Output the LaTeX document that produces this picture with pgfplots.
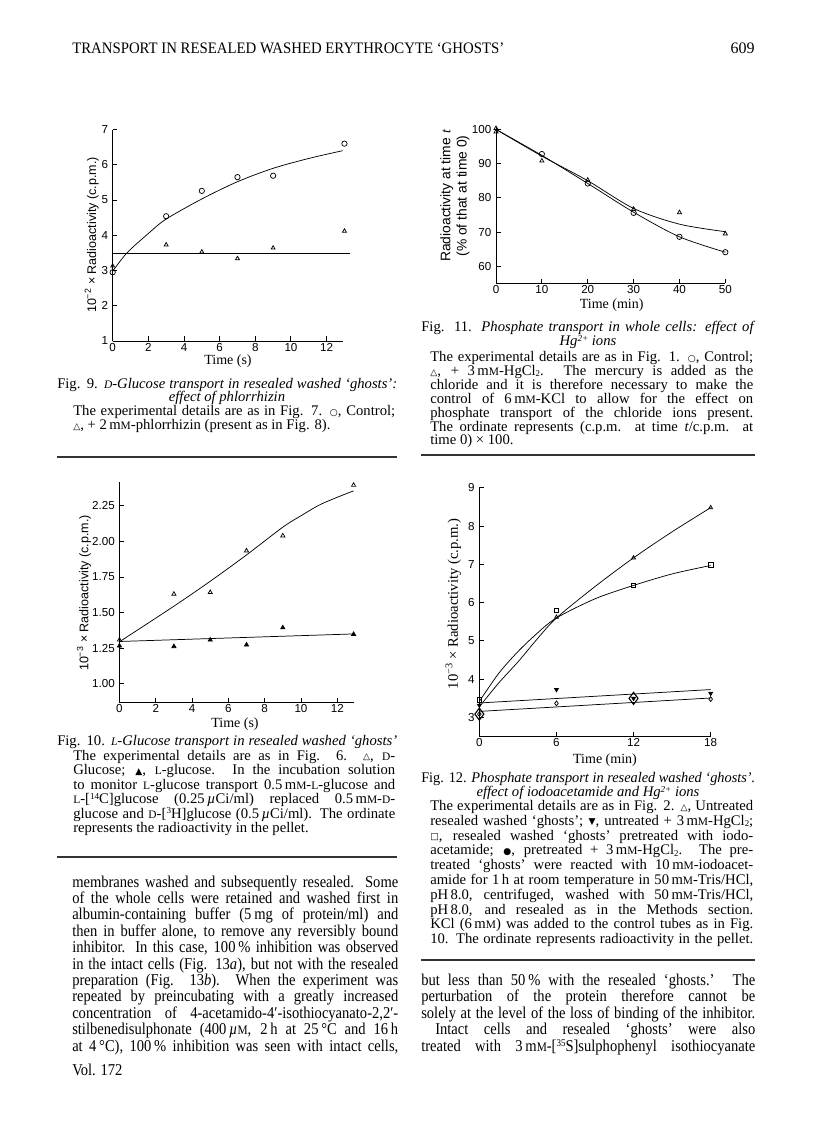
\documentclass[border=0pt]{standalone}
\usepackage{fontspec}
\setmainfont{Liberation Serif}
\setsansfont{Liberation Sans}
\newfontfamily\symf{DejaVu Sans}
\newfontfamily\bodyf{Liberation Serif}[FakeStretch=0.88]
\usepackage{graphicx}
\usepackage{pgfplots}
\pgfplotsset{compat=1.18}

\newcommand\smc[1]{\scalebox{0.78}{#1}}
\newcommand\sy[1]{\raisebox{0.05ex}{\symf\scalebox{0.62}{#1}}}
\newcommand\sps[1]{\raisebox{0.3em}{\scalebox{0.62}{#1}}}
\newcommand\sbs[1]{\raisebox{-0.1em}{\scalebox{0.6}{#1}}}
\newsavebox\fitbox
% justified line: stretch spaces if short, compress if too long
\newcommand\fitline[2]{\sbox\fitbox{#2}\ifdim\wd\fitbox>#1\relax\resizebox{#1}{\ht\fitbox}{\usebox\fitbox}\else\makebox[#1][s]{#2}\fi}
% compress-only line
\newcommand\fitmax[2]{\sbox\fitbox{#2}\ifdim\wd\fitbox>#1\relax\resizebox{#1}{\ht\fitbox}{\usebox\fitbox}\else\usebox\fitbox\fi}
\newcommand\J[4]{\node[anchor=base west,inner sep=0pt] at (#1,#2) {\fitline{#3}{#4}};}
\newcommand\Lf[3]{\node[anchor=base west,inner sep=0pt] at (#1,#2) {#3};}
\newcommand\Cn[3]{\node[anchor=base,inner sep=0pt] at (#1,#2) {#3};}

% widths (1 px = 0.75 pt)
\newlength\wLt \setlength\wLt{255pt}     % left title 340px
\newlength\wLc \setlength\wLc{241.5pt}   % left caption body 322px
\newlength\wLb \setlength\wLb{244.5pt}   % left body 326px
\newlength\wRt \setlength\wRt{250.5pt}   % right title 334px
\newlength\wRc \setlength\wRc{242.25pt}  % right caption body 323px
\newlength\wRb \setlength\wRb{250.5pt}   % right body 334px
\newlength\wRi \setlength\wRi{240pt}     % indented line 320px
\newlength\wH  \setlength\wH{324pt}      % header 432px

\pgfplotsset{
  pg/.style={
    scale only axis, anchor=south west, clip=false,
    axis lines=left, axis line style={-, line width=0.7pt},
    tick align=inside, major tick length=3.5pt,
    tick style={line width=0.7pt, black},
    /pgf/number format/assume math mode=true,
    tick label style={font=\sffamily\fontsize{8.7}{10}\selectfont},
    xticklabel style={yshift=2pt},
    every axis plot/.append style={line width=0.55pt, black},
  }
}

\begin{document}
\begin{tikzpicture}
\path[use as bounding box, fill=white] (0pt,0pt) rectangle (612pt,-852pt);

% ---------------- Fig. 9 ----------------
\begin{axis}[pg, at={(84.5pt,-255.75pt)}, width=172.5pt, height=158.6pt,
  xmin=0, xmax=12.9, ymin=1, ymax=7,
  xtick={0,2,4,6,8,10,12}, ytick={1,2,3,4,5,6,7}]
\addplot[smooth, no marks] coordinates {(0,2.98) (0.8,3.5) (2,4.05) (3,4.46) (5,5.03) (7,5.52) (9,5.9) (11,6.18) (12.9,6.4)};
\addplot[no marks] coordinates {(0,3.5) (13.3,3.5)};
\addplot[only marks, mark=o, mark size=2pt] coordinates {(0,2.95) (3,4.54) (5,5.26) (7,5.65) (9,5.69) (13,6.6)};
\addplot[only marks, mark=triangle, mark size=1.7pt] coordinates {(0,3.13) (3,3.73) (5,3.53) (7,3.34) (9,3.64) (13,4.12)};
\end{axis}

% ---------------- Fig. 10 ----------------
\begin{axis}[pg, at={(89.6pt,-526.7pt)}, width=175.6pt, height=165.5pt,
  xmin=0, xmax=12.9, ymin=0.87, ymax=2.42,
  xtick={0,2,4,6,8,10,12}, ytick={1,1.25,1.5,1.75,2,2.25},
  yticklabels={1.00,1.25,1.50,1.75,2.00,2.25}]
\addplot[smooth, no marks] coordinates {(0,1.295) (3,1.545) (5,1.72) (7,1.905) (9,2.1) (10,2.18) (11,2.255) (12,2.31) (12.9,2.355)};
\addplot[no marks] coordinates {(0,1.297) (12.9,1.35)};
\addplot[only marks, mark=triangle, mark size=1.8pt] coordinates {(0,1.308) (3,1.63) (5,1.642) (7,1.934) (9,2.04) (12.9,2.395)};
\addplot[only marks, mark=triangle*, mark size=1.8pt] coordinates {(0,1.266) (3,1.262) (5,1.308) (7,1.273) (9,1.394) (12.9,1.348)};
\end{axis}

% ---------------- Fig. 11 ----------------
\begin{axis}[pg, at={(372pt,-212.5pt)}, width=172pt, height=117.5pt,
  xmin=0, xmax=50, ymin=55, ymax=100.8,
  xtick={0,10,20,30,40,50}, ytick={60,70,80,90,100}]
\addplot[smooth, no marks] coordinates {(0,100) (10,92.4) (20,84.2) (30,75.8) (40,68.6) (50,64.1)};
\addplot[smooth, no marks] coordinates {(0,100) (10,92.2) (20,85.0) (30,76.9) (40,72.3) (50,70.1)};
\addplot[only marks, mark=o, mark size=2pt] coordinates {(10,92.8) (20,84.2) (30,75.6) (40,68.6) (50,64.1)};
\addplot[only marks, mark=triangle, mark size=1.8pt] coordinates {(0,100.3) (0,99.3) (10,90.8) (20,85.2) (30,76.7) (40,75.7) (50,69.5)};
\end{axis}

% ---------------- Fig. 12 ----------------
\begin{axis}[pg, at={(359.5pt,-552.5pt)}, width=173.5pt, height=186.7pt,
  xmin=0, xmax=18, ymin=2.5, ymax=9,
  xtick={0,6,12,18}, ytick={3,4,5,6,7,8,9}]
\addplot[smooth, no marks] coordinates {(0,3.28) (1.5,3.9) (3,4.45) (4.5,5.05) (6,5.6) (9,6.42) (12,7.17) (15,7.85) (18,8.48)};
\addplot[smooth, no marks] coordinates {(0,3.42) (1.5,4.15) (3,4.72) (4.5,5.2) (6,5.6) (9,6.1) (12,6.45) (15,6.75) (18,6.97)};
\addplot[no marks] coordinates {(0,3.38) (18,3.73)};
\addplot[no marks] coordinates {(0,3.16) (18,3.51)};
\addplot[only marks, mark=triangle, mark size=1.7pt] coordinates {(6,5.62) (12,7.17) (18,8.48)};
\addplot[only marks, mark=square, mark size=1.7pt] coordinates {(0,3.46) (6,5.8) (12,6.45) (18,6.98)};
\addplot[only marks, mark=triangle*, mark size=1.7pt, mark options={rotate=180}] coordinates {(0,3.32) (6,3.73) (12,3.5) (18,3.63)};
\addplot[only marks, mark=diamond, mark size=1.8pt] coordinates {(0,3.09) (6,3.37) (18,3.48)};
\addplot[only marks, mark=diamond, mark size=4.5pt, mark options={line width=0.8pt}] coordinates {(0,3.09) (12,3.5)};
\end{axis}

\begin{scope}[x=0.75pt, y=-0.75pt]
% header
\begin{scope}[font=\fontsize{12}{14}\selectfont]
\node[anchor=base west, inner sep=0pt] at (72,53) {\fitmax{\wH}{TRANSPORT IN RESEALED WASHED ERYTHROCYTE ‘GHOSTS’}};
\node[anchor=base east, inner sep=0pt] at (755,53) {609};
\end{scope}

% axis labels
\node[rotate=90, inner sep=0pt, font=\sffamily\fontsize{9.4}{11}\selectfont] at (91.7,235) {10\textsuperscript{−2} × Radioactivity (c.p.m.)};
\node[anchor=base, inner sep=0pt, font=\fontsize{10.5}{12}\selectfont] at (228,364) {Time (s)};
\node[rotate=90, inner sep=0pt, font=\sffamily\fontsize{9.4}{11}\selectfont] at (84,593) {10\textsuperscript{−3} × Radioactivity (c.p.m.)};
\node[anchor=base, inner sep=0pt, font=\fontsize{10.5}{12}\selectfont] at (235,727) {Time (s)};
\node[rotate=90, inner sep=0pt, align=center, font=\sffamily\fontsize{10.4}{12.2}\selectfont] at (455,196) {Radioactivity at time {\rmfamily\itshape t}\\(\% of that at time 0)};
\node[anchor=base, inner sep=0pt, font=\fontsize{10.5}{12}\selectfont] at (611.7,308) {Time (min)};
\node[rotate=90, inner sep=0pt, font=\fontsize{11}{13}\selectfont] at (453.3,604) {10\textsuperscript{−3} × Radioactivity (c.p.m.)};
\node[anchor=base, inner sep=0pt, font=\fontsize{10.5}{12}\selectfont] at (605,763) {Time (min)};

% captions
\begin{scope}[font=\fontsize{11}{13}\selectfont]
% Fig 9
\J{57}{388}{\wLt}{Fig. 9. \textit{\smc{D}-Glucose transport in resealed washed ‘ghosts’:}}
\Cn{227}{401.5}{\textit{effect of phlorrhizin}}
\J{73}{415.5}{\wLc}{The experimental details are as in Fig. 7. \sy{○}, Control;}
\Lf{73}{429.5}{\sy{△}, + 2\,m\smc{M}-phlorrhizin (present as in Fig. 8).}
% Fig 10
\J{57}{745.5}{\wLt}{Fig. 10. \textit{\smc{L}-Glucose transport in resealed washed ‘ghosts’}}
\J{73}{760}{\wLc}{The experimental details are as in Fig. 6. \sy{△}, \smc{D}-}
\J{73}{774.5}{\wLc}{Glucose; \sy{▲}, \smc{L}-glucose. In the incubation solution}
\J{73}{789}{\wLc}{to monitor \smc{L}-glucose transport 0.5\,m\smc{M}-\smc{L}-glucose and}
\J{73}{803.5}{\wLc}{\smc{L}-[\sps{14}C]glucose (0.25\,\textit{µ}Ci/ml) replaced 0.5\,m\smc{M}-\smc{D}-}
\J{73}{818}{\wLc}{glucose and \smc{D}-[\sps{3}H]glucose (0.5\,\textit{µ}Ci/ml). The ordinate}
\Lf{73}{832.5}{represents the radioactivity in the pellet.}
% Fig 11
\J{421}{331}{\wRt}{Fig. 11. \textit{Phosphate transport in whole cells: effect of}}
\Cn{588}{345.5}{\textit{Hg\sps{2+} ions}}
\J{430}{361.5}{\wRc}{The experimental details are as in Fig. 1. \sy{○}, Control;}
\J{430}{375.4}{\wRc}{\sy{△}, + 3\,m\smc{M}-HgCl\sbs{2}. The mercury is added as the}
\J{430}{389.3}{\wRc}{chloride and it is therefore necessary to make the}
\J{430}{403.2}{\wRc}{control of 6\,m\smc{M}-KCl to allow for the effect on}
\J{430}{417.1}{\wRc}{phosphate transport of the chloride ions present.}
\J{430}{431}{\wRc}{The ordinate represents (c.p.m. at time \textit{t}/c.p.m. at}
\Lf{430}{444.9}{time 0) × 100.}
% Fig 12
\J{421}{782.7}{\wRt}{Fig. 12. \textit{Phosphate transport in resealed washed ‘ghosts’.}}
\Cn{588}{796.5}{\textit{effect of iodoacetamide and Hg\sps{2+} ions}}
\J{430}{810.5}{\wRc}{The experimental details are as in Fig. 2. \sy{△}, Untreated}
\J{430}{825.3}{\wRc}{resealed washed ‘ghosts’; \sy{▼}, untreated + 3\,m\smc{M}-HgCl\sbs{2};}
\J{430}{840.1}{\wRc}{\sy{□}, resealed washed ‘ghosts’ pretreated with iodo-}
\J{430}{854.9}{\wRc}{acetamide; \sy{●}, pretreated + 3\,m\smc{M}-HgCl\sbs{2}. The pre-}
\J{430}{869.7}{\wRc}{treated ‘ghosts’ were reacted with 10\,m\smc{M}-iodoacet-}
\J{430}{884.5}{\wRc}{amide for 1\,h at room temperature in 50\,m\smc{M}-Tris/HCl,}
\J{430}{899.3}{\wRc}{pH\,8.0, centrifuged, washed with 50\,m\smc{M}-Tris/HCl,}
\J{430}{914.1}{\wRc}{pH\,8.0, and resealed as in the Methods section.}
\J{430}{928.9}{\wRc}{KCl (6\,m\smc{M}) was added to the control tubes as in Fig.}
\J{430}{943.7}{\wRc}{10. The ordinate represents radioactivity in the pellet.}
\end{scope}

% rules
\draw[line width=1.1pt, black!80] (57,457) -- (397,457);
\draw[line width=1.1pt, black!80] (421,455) -- (755,455);
\draw[line width=1.1pt, black!80] (57,857) -- (397,857);
\draw[line width=1.1pt, black!80] (421,960) -- (755,960);

% body text
\begin{scope}[font=\bodyf\fontsize{12.4}{14}\selectfont]
\J{72}{887}{\wLb}{membranes washed and subsequently resealed. Some}
\J{72}{903.4}{\wLb}{of the whole cells were retained and washed first in}
\J{72}{919.8}{\wLb}{albumin-containing buffer (5\,mg of protein/ml) and}
\J{72}{936.2}{\wLb}{then in buffer alone, to remove any reversibly bound}
\J{72}{952.6}{\wLb}{inhibitor. In this case, 100\,\% inhibition was observed}
\J{72}{969}{\wLb}{in the intact cells (Fig. 13\textit{a}), but not with the resealed}
\J{72}{985.4}{\wLb}{preparation (Fig. 13\textit{b}). When the experiment was}
\J{72}{1001.8}{\wLb}{repeated by preincubating with a greatly increased}
\J{72}{1018.2}{\wLb}{concentration of 4-acetamido-4′-isothiocyanato-2,2′-}
\J{72}{1034.6}{\wLb}{stilbenedisulphonate (400\,\textit{µ}\smc{M}, 2\,h at 25\,°C and 16\,h}
\J{72}{1051}{\wLb}{at 4\,°C), 100\,\% inhibition was seen with intact cells,}
\Lf{72}{1075}{Vol. 172}
\J{421}{985.4}{\wRb}{but less than 50\,\% with the resealed ‘ghosts.’ The}
\J{421}{1001.8}{\wRb}{perturbation of the protein therefore cannot be}
\J{421}{1018.2}{\wRb}{solely at the level of the loss of binding of the inhibitor.}
\J{435}{1034.6}{\wRi}{Intact cells and resealed ‘ghosts’ were also}
\J{421}{1051}{\wRb}{treated with 3\,m\smc{M}-[\sps{35}S]sulphophenyl isothiocyanate}
\end{scope}
\end{scope}
\end{tikzpicture}
\end{document}
